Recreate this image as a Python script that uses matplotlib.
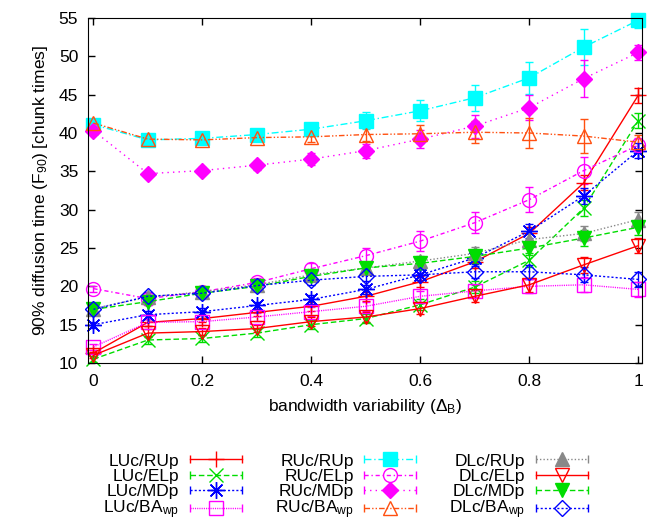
from matplotlib import pyplot as plt
from matplotlib.legend_handler import HandlerLine2D
from matplotlib.lines import Line2D
import numpy as np

plt.rcParams['font.family'] = ['Liberation Sans', 'DejaVu Sans']
plt.rcParams['mathtext.fontset'] = 'custom'
plt.rcParams['mathtext.rm'] = 'Liberation Sans'
plt.rcParams['mathtext.it'] = 'Liberation Sans:italic'
plt.rcParams['font.size'] = 12.5

x = [0, 0.1, 0.2, 0.3, 0.4, 0.5, 0.6, 0.7, 0.8, 0.9, 1.0]

# LUc
luc_rup = [11.3, 15.3, 15.8, 16.6, 17.4, 18.7, 20.6, 23.2, 26.9, 33.5, 44.9]
luc_elp = [10.5, 13.0, 13.2, 13.9, 15.0, 15.8, 17.6, 19.9, 23.4, 30.2, 41.6]
luc_mdp = [15.0, 16.3, 16.7, 17.5, 18.3, 19.6, 21.5, 23.7, 27.2, 31.8, 37.7]
luc_bawp = [12.1, 15.3, 15.4, 16.0, 16.7, 17.4, 18.7, 19.4, 20.0, 20.2, 19.6]
# RUc
ruc_rup = [41.1, 39.1, 39.3, 39.8, 40.5, 41.6, 42.9, 44.6, 47.2, 51.2, 54.7]
ruc_elp = [19.7, 18.4, 19.3, 20.5, 22.3, 24.0, 25.9, 28.3, 31.3, 35.1, 38.4]
ruc_mdp = [40.3, 34.7, 35.1, 35.8, 36.6, 37.7, 39.2, 40.9, 43.3, 47.1, 50.5]
ruc_bawp = [41.3, 39.2, 39.1, 39.4, 39.5, 39.8, 39.9, 40.1, 40.0, 39.6, 38.8]
# DLc
dlc_rup = [17.1, 18.6, 19.3, 20.2, 21.5, 22.4, 23.3, 24.3, 26.1, 26.9, 28.7]
dlc_elp = [11.0, 13.9, 14.1, 14.5, 15.4, 16.0, 17.1, 18.7, 20.2, 22.8, 25.3]
dlc_mdp = [17.0, 18.0, 19.1, 20.0, 21.3, 22.4, 23.0, 23.9, 25.0, 26.3, 27.7]
dlc_bawp = [17.0, 18.7, 19.1, 20.1, 20.8, 21.3, 21.5, 21.9, 21.9, 21.5, 20.9]

# error bar half-widths (rough reading)
err_small = [0.4, 0.5, 0.5, 0.5, 0.6, 0.6, 0.7, 0.8, 0.9, 1.0, 1.0]
err_ruc_rup = [0.4, 0.4, 0.5, 0.5, 0.6, 1.1, 1.4, 1.7, 2.1, 2.3, 1.0]
err_ruc_mdp = [0.4, 0.4, 0.5, 0.6, 0.8, 0.9, 1.2, 1.5, 1.6, 2.4, 1.0]
err_ruc_bawp = [0.4, 0.4, 0.4, 0.5, 0.7, 0.9, 1.2, 1.4, 2.0, 2.2, 1.0]
err_ruc_elp = [0.4, 0.5, 0.5, 0.6, 0.8, 1.0, 1.3, 1.4, 1.6, 1.8, 1.0]

series = [
    ('LUc/RUp', luc_rup, err_small, '#ff0000', '-', '+', 12, True),
    ('LUc/ELp', luc_elp, err_small, '#00dd00', (0, (4, 2)), 'x', 10, False),
    ('LUc/MDp', luc_mdp, err_small, '#0000ff', (0, (1.5, 1.5)), (8, 2, 0), 12, False),
    ('LUc/BA$_\\mathrm{wp}$', luc_bawp, err_small, '#ff00ff', (0, (0.8, 0.8)), 's', 10, False),
    ('RUc/RUp', ruc_rup, err_ruc_rup, '#00ffff', (0, (5, 2, 1, 2)), 's', 10, True),
    ('RUc/ELp', ruc_elp, err_ruc_elp, '#ff00ff', (0, (3, 2, 1, 2)), 'o', 10, False),
    ('RUc/MDp', ruc_mdp, err_ruc_mdp, '#ff00ff', (0, (1, 3)), 'D', 8, True),
    ('RUc/BA$_\\mathrm{wp}$', ruc_bawp, err_ruc_bawp, '#ff5010', (0, (4, 1.5, 1, 1.5, 1, 1.5)), '^', 10, False),
    ('DLc/RUp', dlc_rup, err_small, '#888888', (0, (1, 1.5)), '^', 10, True),
    ('DLc/ELp', dlc_elp, err_small, '#ff0000', '-', 'v', 10, False),
    ('DLc/MDp', dlc_mdp, err_small, '#00dd00', (0, (4, 2)), 'v', 10, True),
    ('DLc/BA$_\\mathrm{wp}$', dlc_bawp, err_small, '#0000ff', (0, (1.5, 1.5)), 'D', 8, False),
]


class CapHandler(HandlerLine2D):
    def create_artists(self, legend, orig_handle, xdescent, ydescent,
                       width, height, fontsize, trans):
        arts = super().create_artists(legend, orig_handle, xdescent, ydescent,
                                      width, height, fontsize, trans)
        y = height / 2 - ydescent
        caps = Line2D([-xdescent, width - xdescent], [y, y], linestyle='none',
                      marker='|', markersize=6, color=orig_handle.get_color(),
                      markeredgewidth=1, transform=trans)
        return list(arts) + [caps]


fig = plt.figure(figsize=(6.58, 5.24), dpi=100)
ax = fig.add_axes([88 / 658, 1 - 363 / 524, (642 - 88) / 658, (363 - 18) / 524])

handles = []
for label, y, e, color, ls, mk, ms, filled in series:
    face = color if filled else 'none'
    eb = ax.errorbar(x, y, yerr=e, color=color, linestyle=ls, linewidth=1,
                     marker=mk, markersize=ms, markerfacecolor=face,
                     markeredgecolor=color, markeredgewidth=1,
                     ecolor=color, elinewidth=1, capsize=3, capthick=1)
    eb.lines[0].set_clip_on(False)
    h = Line2D([], [], color=color, linestyle=ls, linewidth=1, marker=mk,
               markersize=ms, markerfacecolor=face, markeredgecolor=color,
               markeredgewidth=1)
    h.set_label(label)
    handles.append(h)

ax.set_xlim(-0.01, 1.007)
ax.set_ylim(10, 55)
ax.set_xticks([0, 0.2, 0.4, 0.6, 0.8, 1])
ax.set_xticklabels(['0', '0.2', '0.4', '0.6', '0.8', '1'])
ax.set_yticks(np.arange(10, 56, 5))
ax.tick_params(direction='in', top=True, right=True, length=5, width=1)
ax.tick_params(axis='x', pad=8)
ax.tick_params(axis='y', pad=7)
ax.set_xlabel('bandwidth variability (\u0394$_\\mathrm{B}$)', labelpad=6)
ax.set_ylabel('90% diffusion time (F$_\\mathrm{90}$) [chunk times]', labelpad=6)

fig.legend(handles=handles, labels=[h.get_label() for h in handles],
           handler_map={Line2D: CapHandler()},
           loc='upper center', bbox_to_anchor=(0.525, 0.158), ncol=3,
           frameon=False, markerfirst=False, handlelength=3.0,
           handletextpad=0.6, columnspacing=1.9, labelspacing=0.0,
           borderpad=0.2)

fig.savefig('out.png', dpi=100)
